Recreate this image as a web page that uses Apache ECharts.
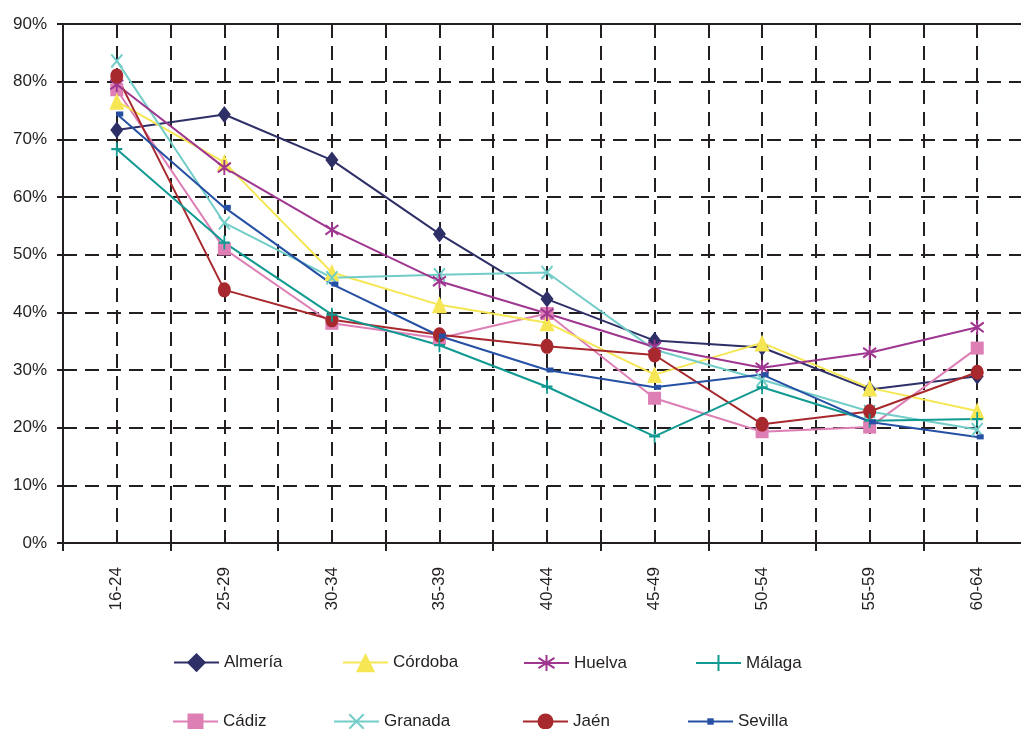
<!DOCTYPE html>
<html>
<head>
<meta charset="utf-8">
<script src="https://cdn.jsdelivr.net/npm/echarts@6/dist/echarts.min.js"></script>
<style>
  html, body { margin: 0; padding: 0; background: #fff; }
  #chart { width: 1021px; height: 729px; }
</style>
</head>
<body>
<div id="chart"></div>
<script>
// Age groups on the horizontal axis
const categories = ['16-24', '25-29', '30-34', '35-39', '40-44', '45-49', '50-54', '55-59', '60-64'];

// Percentages per province, one value per age group
const almeria = [71.6, 74.3, 66.4, 53.6, 42.3, 35.1, 33.9, 26.6, 28.9];
const cadiz   = [78.6, 51.0, 38.1, 35.5, 39.8, 25.1, 19.3, 20.1, 33.8];
const cordoba = [76.6, 66.0, 46.9, 41.3, 38.2, 29.2, 34.7, 26.9, 22.9];
const granada = [83.6, 55.5, 46.0, 46.5, 46.9, 33.5, 28.3, 22.8, 19.7];
const huelva  = [79.5, 65.1, 54.3, 45.4, 39.8, 34.0, 30.4, 33.0, 37.4];
const jaen    = [81.0, 43.9, 38.7, 36.1, 34.1, 32.6, 20.6, 22.8, 29.6];
const malaga  = [68.3, 52.1, 39.6, 34.3, 27.1, 18.5, 27.0, 21.2, 21.5];
const sevilla = [74.4, 58.2, 44.9, 35.9, 30.0, 27.0, 29.2, 21.0, 18.4];

// Value axis ticks
const yTicks = { min: 0, max: 90, interval: 10 };

const ink = '#231f20';
const font = "'Liberation Sans', Arial, Helvetica, sans-serif";

// Marker shapes
const DIAMOND = 'path://M5,0L10,7L5,14L0,7Z';
const TRIANGLE = 'path://M6,0L12,14L0,14Z';
const CROSS_X = 'path://M0,0L10,12M10,0L0,12';
const PLUS = 'path://M5,0L5,12M0,6L10,6';
const STAR = 'path://M6,0L6,14M0,2.5L12,11.5M12,2.5L0,11.5';

function lineSeries(name, data, color, symbol, size, opts) {
  opts = opts || {};
  return {
    name: name,
    type: 'line',
    data: data,
    xAxisIndex: 0,
    yAxisIndex: 0,
    symbol: symbol,
    symbolSize: size,
    symbolOffset: opts.offset || [0, 0],
    showAllSymbol: true,
    lineStyle: { color: color, width: 2 },
    itemStyle: {
      color: color,
      borderColor: color,
      borderWidth: opts.stroke ? 2 : 0
    },
    emphasis: { disabled: true },
    silent: true
  };
}

const series = [
  lineSeries('Almería', almeria, '#2d2f66', DIAMOND, [13, 17]),
  lineSeries('Cádiz',   cadiz,   '#dd7fb5', 'rect', [13, 13]),
  lineSeries('Córdoba', cordoba, '#f6e653', TRIANGLE, [15, 17]),
  lineSeries('Granada', granada, '#72cdc8', CROSS_X, [11, 13], { stroke: true }),
  lineSeries('Huelva',  huelva,  '#9f3690', STAR, [13, 15], { stroke: true }),
  lineSeries('Jaén',    jaen,    '#a7282d', 'circle', [13, 15]),
  lineSeries('Málaga',  malaga,  '#109a92', PLUS, [11, 14], { stroke: true }),
  lineSeries('Sevilla', sevilla, '#2650a3', 'rect', [7, 5], { offset: [3, 0] })
];

// Legend: two rows of four, each entry placed on its own
const legendSlots = [
  { name: 'Almería', left: 173, cy: 661, h: 24 },
  { name: 'Córdoba', left: 342, cy: 661, h: 24 },
  { name: 'Huelva',  left: 523, cy: 661, h: 20 },
  { name: 'Málaga',  left: 695, cy: 661, h: 20 },
  { name: 'Cádiz',   left: 172, cy: 720, h: 20 },
  { name: 'Granada', left: 333, cy: 720, h: 18 },
  { name: 'Jaén',    left: 522, cy: 720, h: 20 },
  { name: 'Sevilla', left: 687, cy: 720, h: 8 }
];

// text box is about 22px tall and sits ~4px lower than its visual centre
const legends = legendSlots.map(function (s) {
  return {
    data: [s.name],
    left: s.left,
    top: s.cy + 4 - Math.max(s.h, 22) / 2,
    padding: 0,
    itemWidth: 45,
    itemHeight: s.h,
    selectedMode: false,
    textStyle: { color: ink, fontSize: 17, fontFamily: font }
  };
});

const chart = echarts.init(document.getElementById('chart'), null, { renderer: 'canvas' });

chart.setOption({
  animation: false,
  backgroundColor: '#ffffff',
  // the plot runs slightly past the right edge of the canvas
  grid: {
    left: 63, top: 24, width: 968, bottom: 186,
    containLabel: false,
    outerBoundsMode: 'none'
  },
  legend: legends,
  xAxis: [
    {
      type: 'category',
      data: categories,
      boundaryGap: true,
      position: 'bottom',
      axisLine: { show: true, lineStyle: { color: ink, width: 2 } },
      axisTick: { show: true, length: 8, lineStyle: { color: ink, width: 2 } },
      axisLabel: {
        rotate: 90,
        margin: 24,
        color: ink,
        fontSize: 17,
        fontFamily: font
      },
      splitLine: { show: false }
    },
    {
      // half-category grid: vertical dashed lines at boundaries and centres, plus the top frame
      type: 'value',
      position: 'top',
      min: 0,
      max: 18,
      interval: 1,
      axisLine: { show: true, onZero: false, lineStyle: { color: ink, width: 2 } },
      axisTick: { show: false },
      axisLabel: { show: false },
      splitLine: {
        show: true,
        showMinLine: false,
        showMaxLine: false,
        lineStyle: { color: ink, width: 2, type: [14, 8] }
      }
    }
  ],
  yAxis: {
    type: 'value',
    min: yTicks.min,
    max: yTicks.max,
    interval: yTicks.interval,
    axisLine: { show: true, lineStyle: { color: ink, width: 2 } },
    axisTick: { show: true, length: 6, lineStyle: { color: ink, width: 2 } },
    axisLabel: {
      formatter: '{value}%',
      margin: 16,
      color: ink,
      fontSize: 17,
      fontFamily: font
    },
    splitLine: {
      show: true,
      showMinLine: false,
      showMaxLine: false,
      lineStyle: { color: ink, width: 2, type: [14, 8] }
    }
  },
  series: series
});
</script>
</body>
</html>
